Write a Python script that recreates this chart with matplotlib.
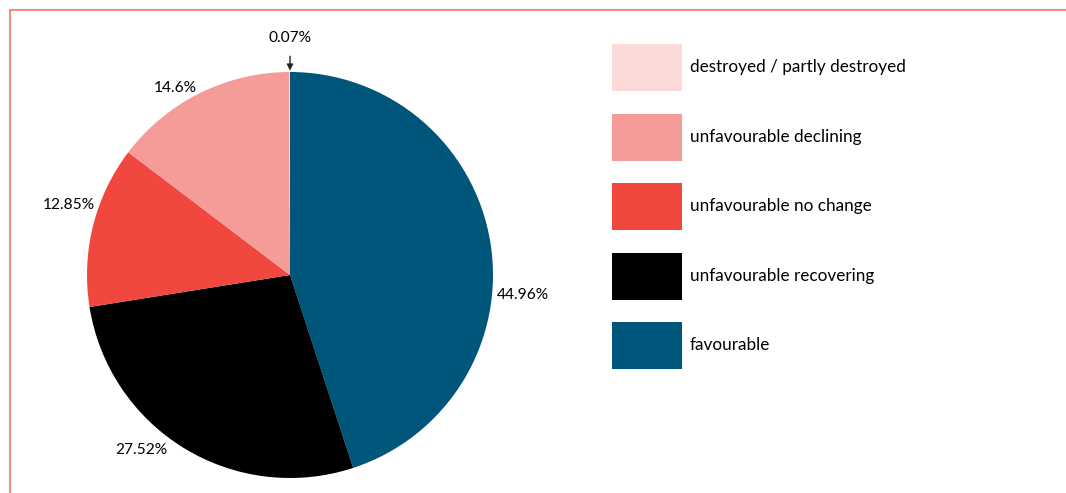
import matplotlib.pyplot as plt
from matplotlib.patches import Rectangle

# ===== data =====
categories = ["favourable", "unfavourable recovering", "unfavourable no change",
              "unfavourable declining", "destroyed / partly destroyed"]
shares = [44.96, 27.52, 12.85, 14.6, 0.07]
pct_labels = ["44.96%", "27.52%", "12.85%", "14.6%", "0.07%"]
colors = ["#00567a", "#000000", "#f0473f", "#f59b98", "#fddada"]

# ===== figure =====
W, H = 1066, 493
R = 203.0          # pie radius in px
CX, CY = 290, 275  # pie centre in px (from top-left)

plt.rcParams["font.family"] = ["Lato", "DejaVu Sans"]
fig = plt.figure(figsize=(W / 100, H / 100), dpi=100)

# pie axes: 1 data unit == R pixels in both directions
ax = fig.add_axes([(CX - 250) / W, 0, 500 / W, 1])
wedges, _ = ax.pie(shares, colors=colors, startangle=90, counterclock=False,
                   radius=1, wedgeprops=dict(linewidth=0))
ax.set_aspect("auto")
ax.set_xlim(-250 / R, 250 / R)
ax.set_ylim(-(H - CY) / R, CY / R)
ax.axis("off")

# percentage labels
lab_pos = {
    "44.96%": (1.02, -0.10, "left"),
    "27.52%": (-0.605, -0.862, "right"),
    "12.85%": (-0.96, 0.345, "right"),
    "14.6%": (-0.458, 0.921, "right"),
}
for txt in pct_labels[:-1]:
    x, y, ha = lab_pos[txt]
    ax.text(x, y, txt, ha=ha, va="center", fontsize=11.2, color="#000000")

ax.annotate(pct_labels[-1], xy=(0, 1.0), xytext=(0, 1.167),
            ha="center", va="center", fontsize=11.2, color="#000000",
            arrowprops=dict(arrowstyle="-|>", color="#222222", lw=1,
                            mutation_scale=9, shrinkA=6, shrinkB=1))

# legend (reverse order, lightest on top)
handles = list(wedges)[::-1]
labels = categories[::-1]
fs = 12.3
fpx = fs * 100 / 72
hh = (47 / fpx - 0.245) / 0.65
leg = fig.legend(handles, labels, loc="upper left",
                 bbox_to_anchor=(612 / W, 1 - 44 / H),
                 frameon=False, fontsize=fs, borderpad=0, borderaxespad=0,
                 handlelength=70 / fpx, handleheight=hh,
                 handletextpad=8 / fpx,
                 labelspacing=(69.5 - 47) / fpx)

# red frame on the left and top
fig.add_artist(Rectangle((9.5 / W, -0.1), 1.2, 1.1 - 10.5 / H,
                         transform=fig.transFigure, fill=False,
                         edgecolor="#f2736a", linewidth=1.2))

fig.savefig("out.png", dpi=100)
